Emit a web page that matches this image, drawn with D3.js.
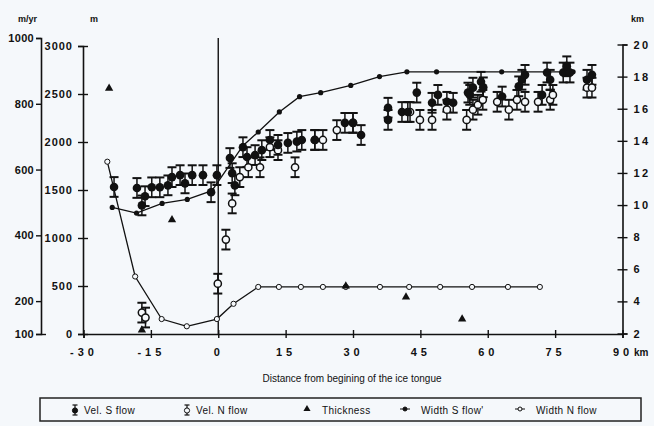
<!DOCTYPE html>
<html><head><meta charset="utf-8">
<script src="https://cdn.jsdelivr.net/npm/d3@7"></script>
<style>
body{margin:0;background:#f5f8fb;}
svg{display:block;}
text{font-family:"Liberation Sans",Arial,Helvetica,sans-serif;fill:#111;}
</style></head><body>
<svg id="c" width="654" height="426"></svg>
<script>
// ---- data ----
const xTicks = [-30, -15, 0, 15, 30, 45, 60, 75, 90];
const velTicks = [100, 200, 400, 600, 800, 1000];
const thickTicks = [0, 500, 1000, 1500, 2000, 2500, 3000];
const widthTicks = [2, 4, 6, 8, 10, 12, 14, 16, 18, 20];
const velErr = 30; // m/yr
const velS = [
  [-23.2,547],[-18.1,544],[-17.0,491],[-16.3,519],[-14.8,546],[-13.0,546],[-11.2,552],[-10.3,577],
  [-8.5,583],[-7.4,558],[-5.8,583],[-3.4,583],[-1.6,531],[-0.3,583],[2.6,635],[3.1,589],[3.7,552],
  [5.5,668],[6.4,638],[8.2,644],[9.7,659],[11.5,690],[13.3,675],[15.5,681],[17.5,685],[18.6,690],
  [21.5,690],[28.2,742],[30.0,742],[31.8,705],[37.8,788],[37.8,751],[40.9,775],[42.2,775],[44.2,834],
  [47.6,803],[48.9,827],[50.9,806],[52.3,803],[55.6,834],[56.0,827],[56.7,849],[58.5,867],[59.0,850],
  [63.2,822],[66.9,853],[67.6,873],[68.3,888],[72.1,827],[73.2,895],[73.9,873],[76.8,895],[77.6,914],
  [78.3,895],[82.1,873],[83.2,888]
];
const velN = [
  [-17.0,165],[-16.2,150],[-0.1,253],[1.7,387],[3.1,497],[4.8,577],[6.7,607],[9.3,607],[11.5,668],
  [13.3,659],[17.1,607],[21.5,690],[23.3,690],[26.4,720],[30.0,742],[42.7,775],[44.9,751],[47.6,751],
  [50.9,782],[55.3,751],[56.7,782],[57.8,797],[58.9,812],[62.1,806],[64.7,782],[66.5,812],[68.3,806],
  [71.2,806],[73.9,812],[74.5,827],[82.1,849],[83.2,849]
];
const thickness = [[-24.3,2560],[-17.0,40],[-10.3,1190],[28.4,500],[41.8,385],[54.3,156]];
const widthS = [[-23.6,9.85],[-18.2,9.5],[-12.5,10.1],[-6.9,10.35],[-1.4,10.9],[5.5,13.7],[8.9,14.55],
  [13.6,15.8],[18.1,16.75],[22.8,17.0],[29.5,17.45],[35.9,18.0],[42.0,18.3],[48.6,18.3],[63.1,18.3],[79.0,18.3]];
const widthN = [[-24.7,12.7],[-18.5,5.55],[-12.6,2.9],[-7.0,2.45],[-0.3,2.9],[3.4,3.85],[8.9,4.9],[13.5,4.9],
  [18.4,4.9],[23.3,4.9],[28.4,4.9],[36.0,4.9],[42.5,4.9],[49.4,4.9],[56.5,4.9],[64.5,4.9],[71.6,4.9]];
const legendItems = ["Vel. S flow", "Vel. N flow", "Thickness", "Width S flow'", "Width N flow"];
const tongueStart = 0;

// ---- scales ----
const BG = "#f5f8fb", INK = "#111";
const svg = d3.select("#c");
svg.append("rect").attr("width",654).attr("height",426).attr("fill",BG);
const x = d3.scaleLinear([-30, 90], [83.5, 622.5]);
const yVel = d3.scaleLinear([100, 1000], [334, 38]);
const yThick = d3.scaleLinear([0, 3000], [334, 46]);
const yWidth = d3.scaleLinear([2, 20], [333.5, 44.5]);
const fmt = d => String(d);

function styleAxis(g, spacing){
  g.select(".domain").attr("stroke", INK).attr("stroke-width", 1.6);
  g.selectAll(".tick line").attr("stroke", INK).attr("stroke-width", 1.4);
  g.selectAll(".tick text").attr("font-size", 11).attr("font-weight", "bold")
    .attr("letter-spacing", spacing).attr("fill", INK).attr("font-family", '"Liberation Sans",Arial,sans-serif');
}

// x axis
const gx = svg.append("g").attr("transform", "translate(0,334)")
  .call(d3.axisBottom(x).tickValues(xTicks).tickSizeOuter(0).tickSize(4).tickPadding(10).tickFormat(fmt));
gx.selectAll(".tick line").attr("y1", -4).attr("y2", 4);
styleAxis(gx, 4);
svg.append("text").attr("x", 634).attr("y", 356).attr("font-size", 10).attr("font-weight","bold").text("km");

// outer velocity axis
const gv = svg.append("g").attr("transform", "translate(41,0)")
  .call(d3.axisLeft(yVel).tickValues(velTicks).tickSizeOuter(0).tickSize(5).tickPadding(2).tickFormat(fmt));
gv.selectAll(".tick line").attr("x2", d => d === 100 ? 5 : 0).attr("x1", -5);
styleAxis(gv, 0.3);

// thickness axis
const gt = svg.append("g").attr("transform", "translate(83,0)")
  .call(d3.axisLeft(yThick).tickValues(thickTicks).tickSizeOuter(0).tickSize(5).tickPadding(5).tickFormat(fmt));
gt.selectAll(".tick line").attr("x1", -5).attr("x2", 5);
styleAxis(gt, 1);

// width axis
const gw = svg.append("g").attr("transform", "translate(622.5,0)")
  .call(d3.axisRight(yWidth).tickValues(widthTicks).tickSizeOuter(0).tickSize(5).tickPadding(6).tickFormat(fmt));
gw.selectAll(".tick line").attr("x1", -5).attr("x2", 5);
styleAxis(gw, 2.5);

// axis titles
svg.append("text").attr("x", 18).attr("y", 22).attr("font-size", 9).attr("font-weight","bold").text("m/yr");
svg.append("text").attr("x", 90).attr("y", 22).attr("font-size", 9).attr("font-weight","bold").text("m");
svg.append("text").attr("x", 631).attr("y", 22).attr("font-size", 9).attr("font-weight","bold").text("km");
svg.append("text").attr("x", 352).attr("y", 382).attr("text-anchor","middle").attr("font-size", 10)
  .text("Distance from begining of the ice tongue");

// tongue start line
svg.append("line").attr("x1", x(tongueStart)).attr("x2", x(tongueStart)).attr("y1", 38).attr("y2", 334)
  .attr("stroke", INK).attr("stroke-width", 1.4);

// width lines
const lineW = d3.line().x(d => x(d[0])).y(d => yWidth(d[1]));
svg.append("path").attr("d", lineW(widthN)).attr("fill","none").attr("stroke",INK).attr("stroke-width",1.3);
svg.append("path").attr("d", lineW(widthS)).attr("fill","none").attr("stroke",INK).attr("stroke-width",1.3);
svg.append("g").selectAll("circle").data(widthN).join("circle")
  .attr("cx", d => x(d[0])).attr("cy", d => yWidth(d[1])).attr("r", 2.6)
  .attr("fill", BG).attr("stroke", INK).attr("stroke-width", 1);
svg.append("g").selectAll("circle").data(widthS).join("circle")
  .attr("cx", d => x(d[0])).attr("cy", d => yWidth(d[1])).attr("r", 2.6).attr("fill", INK);

// thickness
svg.append("g").selectAll("path").data(thickness).join("path")
  .attr("transform", d => `translate(${x(d[0])},${yThick(d[1])})`)
  .attr("d", d3.symbol(d3.symbolTriangle, 30)).attr("fill", INK);

// velocity error bars
function errBars(data){
  const g = svg.append("g").attr("stroke", INK).attr("stroke-width", 1.5);
  g.selectAll("line.v").data(data).join("line").attr("class","v")
    .attr("x1", d => x(d[0])).attr("x2", d => x(d[0]))
    .attr("y1", d => yVel(d[1] - velErr)).attr("y2", d => yVel(d[1] + velErr));
  g.selectAll("line.t").data(data).join("line").attr("class","t")
    .attr("x1", d => x(d[0]) - 4.5).attr("x2", d => x(d[0]) + 4.5)
    .attr("y1", d => yVel(d[1] + velErr)).attr("y2", d => yVel(d[1] + velErr)).attr("stroke-width", 2);
  g.selectAll("line.b").data(data).join("line").attr("class","b")
    .attr("x1", d => x(d[0]) - 4.5).attr("x2", d => x(d[0]) + 4.5)
    .attr("y1", d => yVel(d[1] - velErr)).attr("y2", d => yVel(d[1] - velErr)).attr("stroke-width", 2);
}
errBars(velN);
errBars(velS);
svg.append("g").selectAll("circle").data(velN).join("circle")
  .attr("cx", d => x(d[0])).attr("cy", d => yVel(d[1])).attr("r", 3.6)
  .attr("fill", BG).attr("stroke", INK).attr("stroke-width", 1.5);
svg.append("g").selectAll("circle").data(velS).join("circle")
  .attr("cx", d => x(d[0])).attr("cy", d => yVel(d[1])).attr("r", 4.3).attr("fill", INK);

// legend
const lg = svg.append("g");
lg.append("rect").attr("x", 40).attr("y", 398).attr("width", 601).attr("height", 23)
  .attr("fill", "none").attr("stroke", "#222").attr("stroke-width", 1.5);
const itemX = [75, 187, 307, 405, 520];
const textGap = [9, 9, 15, 16, 16];
const cy = 410;
legendItems.forEach((t, i) => {
  const ix = itemX[i];
  const g = lg.append("g");
  if (i === 0 || i === 1) {
    g.append("line").attr("x1", ix).attr("x2", ix).attr("y1", cy-5).attr("y2", cy+5).attr("stroke", INK).attr("stroke-width",1.2);
    g.append("line").attr("x1", ix-2.5).attr("x2", ix+2.5).attr("y1", cy-5).attr("y2", cy-5).attr("stroke", INK).attr("stroke-width",1.2);
    g.append("line").attr("x1", ix-2.5).attr("x2", ix+2.5).attr("y1", cy+5).attr("y2", cy+5).attr("stroke", INK).attr("stroke-width",1.2);
    g.append("circle").attr("cx", ix).attr("cy", cy+0.5).attr("r", 2.6)
      .attr("fill", i === 0 ? INK : BG).attr("stroke", INK).attr("stroke-width", 1);
  } else if (i === 2) {
    g.append("path").attr("transform", `translate(${ix},${cy-1})`).attr("d", d3.symbol(d3.symbolTriangle, 22)).attr("fill", INK);
  } else {
    g.append("line").attr("x1", ix-5).attr("x2", ix+5).attr("y1", cy-1).attr("y2", cy-1).attr("stroke", INK).attr("stroke-width",1);
    g.append("circle").attr("cx", ix).attr("cy", cy-1).attr("r", 2)
      .attr("fill", i === 3 ? INK : BG).attr("stroke", INK).attr("stroke-width", 1);
  }
  g.append("text").attr("x", ix + textGap[i]).attr("y", cy + 3.5).attr("font-size", 10).attr("letter-spacing", 0.4).text(t);
});
</script>
</body></html>
